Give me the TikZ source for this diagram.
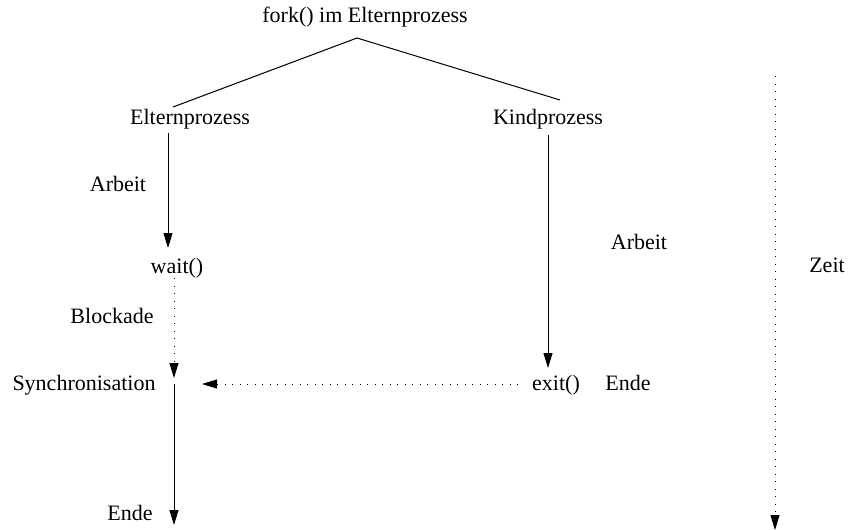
\documentclass[tikz,border=0pt]{standalone}
\usepackage{fontspec}
\setmainfont{Liberation Serif}
\usetikzlibrary{arrows.meta}
\begin{document}
\begin{tikzpicture}[x=1pt,y=-1pt,
  lbl/.style={font=\fontsize{22}{26}\selectfont, anchor=base, inner sep=0pt},
  plainline/.style={line width=1pt},
  solidarrow/.style={line width=1pt, -{Triangle[length=15pt,width=9pt]}},
  dotarrow/.style={line width=1pt, dash pattern=on 1pt off 6.5pt, -{Triangle[length=15pt,width=9pt]}},
  ]
\useasboundingbox (0,0) rectangle (849,530);

% labels
\node[lbl] (fork)   at (365,23)  {fork() im Elternprozess};
\node[lbl] (parent) at (190,124) {Elternprozess};
\node[lbl] (child)  at (548,124) {Kindprozess};
\node[lbl] (work1)  at (118,191) {Arbeit};
\node[lbl] (wait)   at (177,273) {wait()};
\node[lbl] (block)  at (112,323) {Blockade};
\node[lbl] (sync)   at (84,390)  {Synchronisation};
\node[lbl] (exit)   at (556,390) {exit()};
\node[lbl] (end2)   at (628,390) {Ende};
\node[lbl] (work2)  at (639,249) {Arbeit};
\node[lbl] (time)   at (827,272) {Zeit};
\node[lbl] (end1)   at (130,520) {Ende};

% line end points
\coordinate (apex)    at (357,38);
\coordinate (forkL)   at (173,107);
\coordinate (forkR)   at (560,100);
\coordinate (pTop)    at (168,133);
\coordinate (pWait)   at (168,248);
\coordinate (cTop)    at (548,135);
\coordinate (cExit)   at (548,368);
\coordinate (blkTop)  at (174,278);
\coordinate (blkEnd)  at (174,378);
\coordinate (syncTop) at (174,384);
\coordinate (pEnd)    at (174,525);
\coordinate (sigFrom) at (518,384);
\coordinate (sigTo)   at (202,384);
\coordinate (tTop)    at (775,76);
\coordinate (tEnd)    at (775,530);

% fork
\draw[plainline] (forkL) -- (apex) -- (forkR);

% parent process
\draw[solidarrow] (pTop) -- (pWait);
\draw[dotarrow] (blkTop) -- (blkEnd);
\draw[solidarrow] (syncTop) -- (pEnd);

% child process
\draw[solidarrow] (cTop) -- (cExit);
\draw[dotarrow] (sigFrom) -- (sigTo);

% time axis
\draw[dotarrow] (tTop) -- (tEnd);
\end{tikzpicture}
\end{document}
